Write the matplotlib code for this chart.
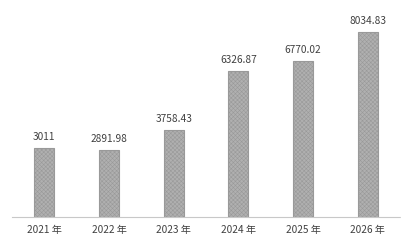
import matplotlib.pyplot as plt

plt.rcParams['font.family'] = ['Noto Sans CJK SC', 'DejaVu Sans']
plt.rcParams['hatch.linewidth'] = 0.4
plt.rcParams['hatch.color'] = '#8f8f8f'

years = ['2021 年', '2022 年', '2023 年', '2024 年', '2025 年', '2026 年']
values = [3011, 2891.98, 3758.43, 6326.87, 6770.02, 8034.83]
labels = ['3011', '2891.98', '3758.43', '6326.87', '6770.02', '8034.83']

fig = plt.figure(figsize=(4.12, 2.42), dpi=100)
ax = fig.add_axes([12 / 412, 25 / 242, 388 / 412, 217 / 242])

x = range(len(years))
bars = ax.bar(x, values, width=0.31, color='#b0b0b0', edgecolor='#999999',
              linewidth=0.8, hatch='xxxxxxxx')

for b, lab in zip(bars, labels):
    ax.text(b.get_x() + b.get_width() / 2, b.get_height() + 260, lab,
            ha='center', va='bottom', fontsize=7.3, color='#404040')

ax.set_xlim(-0.5, len(years) - 0.5)
ax.set_ylim(0, 9414)
ax.set_xticks(list(x))
ax.set_xticklabels(years, fontsize=7.3, color='#404040')
ax.tick_params(axis='x', length=0, pad=6)
ax.set_yticks([])
for s in ['top', 'right', 'left']:
    ax.spines[s].set_visible(False)
ax.spines['bottom'].set_color('#c8c8c8')
ax.spines['bottom'].set_linestyle((0, (1, 1)))
ax.spines['bottom'].set_linewidth(0.8)

fig.savefig('out.png', dpi=100)
